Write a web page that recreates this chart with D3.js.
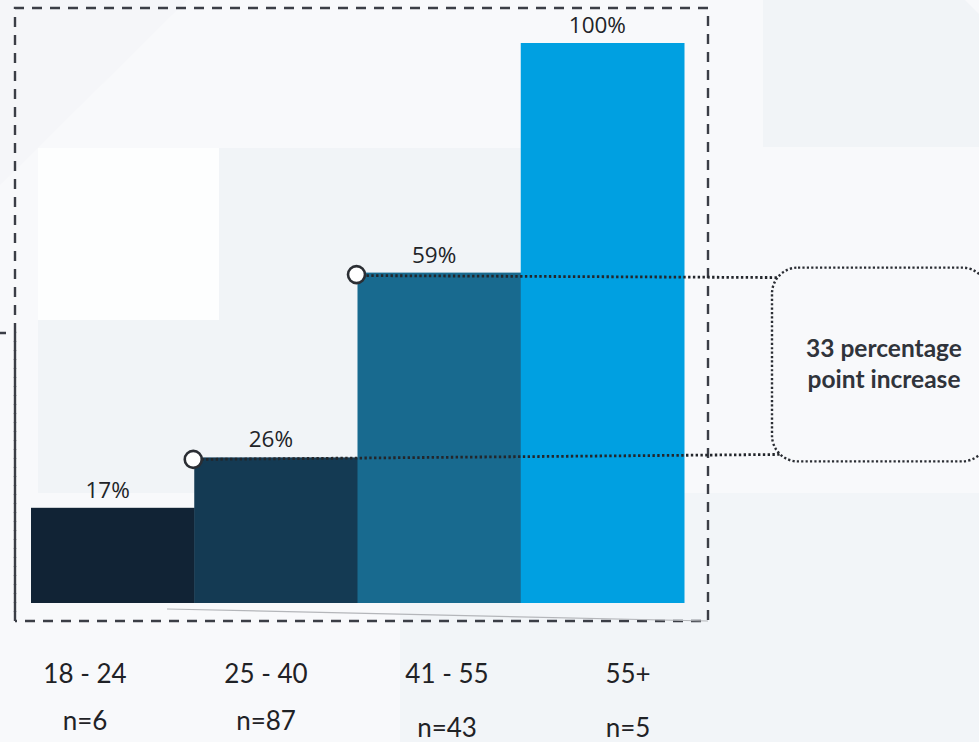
<!DOCTYPE html>
<html>
<head>
<meta charset="utf-8">
<script src="https://cdn.jsdelivr.net/npm/d3@7/dist/d3.min.js"></script>
<style>
  html, body { margin: 0; padding: 0; background: #f8f9fb; }
  svg { display: block; }
</style>
</head>
<body>
<svg id="chart" width="979" height="742"></svg>
<script>
// Share by age group
const categories = ["18 - 24", "25 - 40", "41 - 55", "55+"];
const sampleSizes = ["n=6", "n=87", "n=43", "n=5"];
const values = [17, 26, 59, 100];
const barColors = ["#112335", "#143a53", "#186a8f", "#00a0e1"];
const calloutLines = ["33 percentage", "point increase"];
// Bars joined by the callout (26% -> 59%)
const calloutFrom = 1, calloutTo = 2;

const svg = d3.select("#chart");
const W = 979, H = 742;

// Soft background panels
const bg = svg.append("g");
bg.append("rect").attr("width", W).attr("height", H).attr("fill", "#f8f9fb");
bg.append("path").attr("d", "M0,0 H187 L0,185 Z").attr("fill", "#f5f6f9");
bg.append("path").attr("d", "M763,0 H965 L979,14 V147 H763 Z").attr("fill", "#f1f4f7");
bg.append("rect").attr("x", 38).attr("y", 148).attr("width", 560).attr("height", 345).attr("fill", "#f1f4f7");
bg.append("rect").attr("x", 38).attr("y", 148).attr("width", 181).attr("height", 172).attr("fill", "#fdfefe");
bg.append("rect").attr("x", 400).attr("y", 493).attr("width", 579).attr("height", 249).attr("fill", "#f2f5f8");
bg.append("rect").attr("x", 708).attr("y", 148).attr("width", 271).attr("height", 345).attr("fill", "#f8f9fb");

// Scales
const x = d3.scaleBand().domain(categories).range([31, 684]).paddingInner(0).paddingOuter(0);
const y = d3.scaleLinear().domain([0, 100]).range([603, 43]);
const xLabel = d3.scalePoint().domain(categories).range([85, 628]);

// Dashed frame around the plot
const frame = svg.append("g")
  .attr("fill", "none").attr("stroke", "#3b3e46")
  .attr("stroke-width", 2.4).attr("stroke-dasharray", "10 8");
frame.append("path").attr("d", "M15,621 V8 H708 V621 H15");
frame.append("path").attr("d", "M-22,333 H15 V620");

// Bars
svg.append("g").selectAll("rect")
  .data(values)
  .join("rect")
  .attr("x", (d, i) => x(categories[i]))
  .attr("y", d => y(d))
  .attr("width", x.bandwidth() + 0.5)
  .attr("height", d => y(0) - y(d))
  .attr("fill", (d, i) => barColors[i]);

// Faint base line under the bars
svg.append("line")
  .attr("x1", 167).attr("y1", y(0) + 6)
  .attr("x2", 708).attr("y2", y(0) + 18)
  .attr("stroke", "#b4b6ba").attr("stroke-width", 1.2);

// Value labels
svg.append("g").selectAll("text")
  .data(values)
  .join("text")
  .attr("x", (d, i) => x(categories[i]) + x.bandwidth() / 2 - 5)
  .attr("y", d => y(d) - 10)
  .attr("text-anchor", "middle")
  .attr("font-family", "'Open Sans', sans-serif")
  .attr("font-size", 22.5)
  .attr("fill", "#222428")
  .text(d => d + "%");

// Category and sample size labels
const axisG = svg.append("g")
  .attr("font-family", "Lato, 'Open Sans', sans-serif")
  .attr("font-size", 26)
  .attr("fill", "#1f2226")
  .attr("text-anchor", "middle");
axisG.selectAll("text.cat")
  .data(categories)
  .join("text")
  .attr("class", "cat")
  .attr("x", d => xLabel(d))
  .attr("y", 683)
  .text(d => d);
axisG.selectAll("text.n")
  .data(sampleSizes)
  .join("text")
  .attr("class", "n")
  .attr("x", (d, i) => xLabel(categories[i]))
  .attr("y", (d, i) => i < 2 ? 730 : 737)
  .text(d => d);

// Callout: dotted leader lines from the two bar tops to a rounded box
const yTop = y(values[calloutTo]);
const yBot = y(values[calloutFrom]);
const boxX = 772, boxRight = 988;
const boxTop = yTop - 5, boxBot = yBot + 4;

const leaders = svg.append("g")
  .attr("stroke", "#23262b").attr("stroke-width", 2.8)
  .attr("stroke-dasharray", "2.4 2.4").attr("fill", "none");
leaders.append("line")
  .attr("x1", x(categories[calloutTo]) + 9).attr("y1", yTop + 3)
  .attr("x2", boxX + 14).attr("y2", yTop + 5);
leaders.append("line")
  .attr("x1", x(categories[calloutFrom]) + 7).attr("y1", yBot + 2)
  .attr("x2", boxX + 14).attr("y2", yBot - 3);

svg.append("rect")
  .attr("x", boxX).attr("y", boxTop)
  .attr("width", boxRight - boxX).attr("height", boxBot - boxTop)
  .attr("rx", 26).attr("ry", 26)
  .attr("fill", "#f8f9fb")
  .attr("stroke", "#2a2d33").attr("stroke-width", 2.4)
  .attr("stroke-dasharray", "2.2 2.2");

const calloutText = svg.append("text")
  .attr("text-anchor", "middle")
  .attr("font-family", "Lato, 'Open Sans', sans-serif")
  .attr("font-weight", 700)
  .attr("font-size", 24.5)
  .attr("fill", "#30343b");
calloutLines.forEach((line, i) => {
  calloutText.append("tspan")
    .attr("x", 884)
    .attr("y", (boxTop + boxBot) / 2 - 8 + i * 31)
    .text(line);
});

// Markers at the bar corners
svg.append("g").selectAll("circle")
  .data([calloutFrom, calloutTo])
  .join("circle")
  .attr("cx", i => x(categories[i]) - 1)
  .attr("cy", i => y(values[i]) + 2)
  .attr("r", 8.5)
  .attr("fill", "#ffffff")
  .attr("stroke", "#2b2e34")
  .attr("stroke-width", 2.6);
</script>
</body>
</html>
